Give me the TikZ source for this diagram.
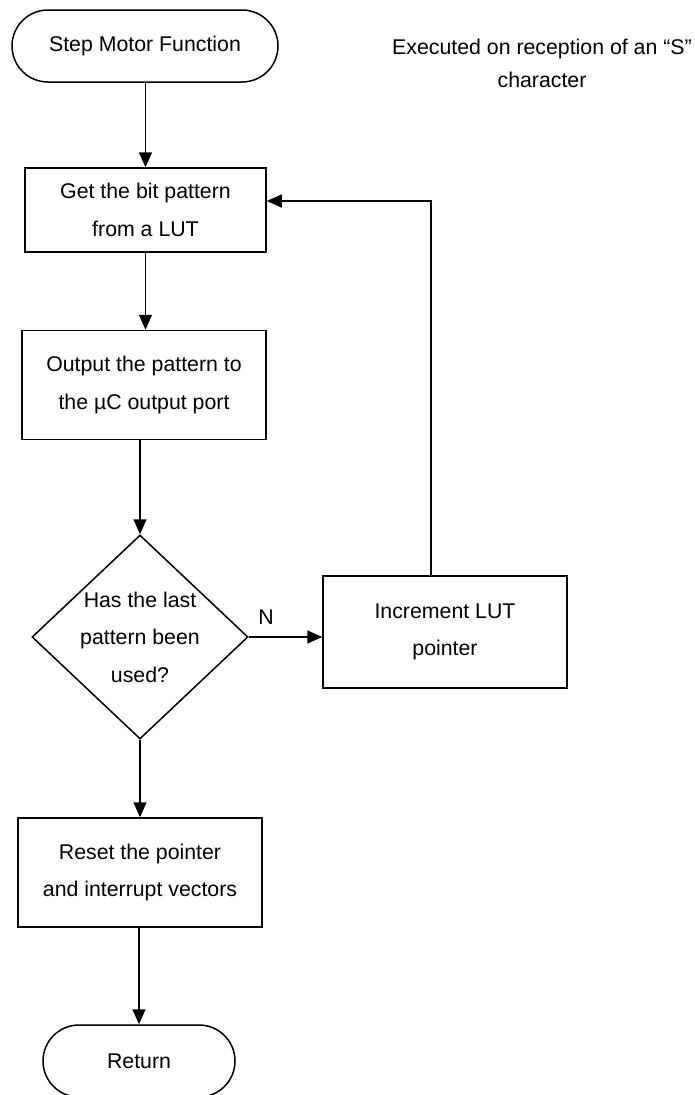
\documentclass[tikz,border=0pt]{standalone}
\usepackage{fontspec}
\setmainfont{Liberation Sans}
\usetikzlibrary{arrows.meta,shapes.geometric}
\begin{document}
\begin{tikzpicture}[x=1pt,y=-1pt,
  every node/.style={font=\fontsize{21.3}{37.5}\selectfont, align=center, inner sep=0pt},
  proc/.style={draw, line width=1.5pt, rectangle},
  term/.style={draw, line width=1.5pt, rectangle, rounded corners=36pt},
  decision/.style={draw, line width=1.5pt, diamond},
  arr/.style={line width=1.5pt, -{Triangle[length=15pt,width=13pt]}},
  plain/.style={line width=1.5pt}]
\useasboundingbox (0,0) rectangle (695,1095);
\node[term, minimum width=266pt, minimum height=72pt] (start) at (145,46) {Step Motor Function};
\node[font=\fontsize{21.3}{33}\selectfont] (note) at (542,63) {Executed on reception of an “S”\\character};
\node[proc, minimum width=241pt, minimum height=84pt] (get) at (145.5,210) {Get the bit pattern\\from a LUT};
\node[proc, minimum width=244pt, minimum height=109pt] (out) at (144,385) {Output the pattern to\\the µC output port};
\node[decision, minimum width=216pt, minimum height=204pt] (dia) at (140,637) {};
\node (diat) at (dia.center) {Has the last\\pattern been\\used?};
\node (nlab) at (266,617) {N};
\node[proc, minimum width=244pt, minimum height=112pt] (inc) at (445,632) {Increment LUT\\pointer};
\node[proc, minimum width=244pt, minimum height=109pt] (reset) at (140,872.5) {Reset the pointer\\and interrupt vectors};
\node[term, minimum width=192pt, minimum height=72pt] (ret) at (139,1061) {Return};
\coordinate (bend) at (431,201);
\draw[arr] (start.south -| get.north) -- (get.north);
\draw[arr] (get.south) -- (get.south |- out.north);
\draw[arr] (out.south -| dia.north) -- (dia.north);
\draw[arr] (dia.east) -- (dia.east -| inc.west);
\draw[arr] (inc.north -| bend) -- (bend) -- (bend -| get.east);
\draw[arr] (dia.south) -- (dia.south |- reset.north);
\draw[arr] (reset.south -| ret.north) -- (ret.north);
\end{tikzpicture}
\end{document}
